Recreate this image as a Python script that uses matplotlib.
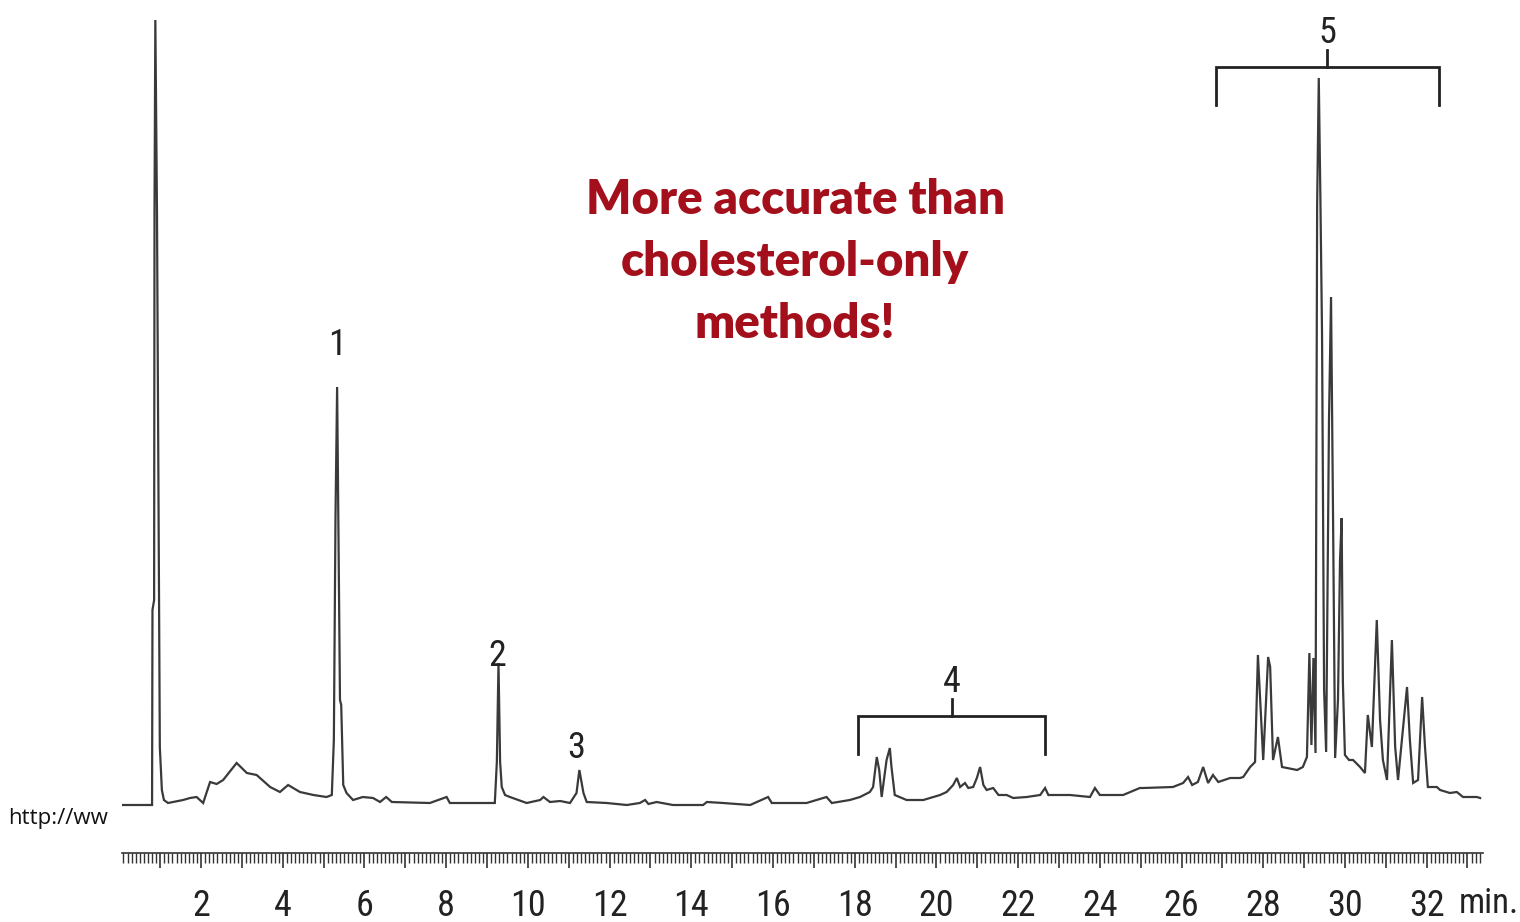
import matplotlib
matplotlib.use("Agg")
import matplotlib.pyplot as plt
from matplotlib import font_manager
from matplotlib.ticker import MultipleLocator, FuncFormatter

# ---- data ----
time_min = [0.06, 0.80, 0.81, 0.85, 0.86, 0.88, 0.92, 0.97, 0.99, 1.04, 1.09, 1.19, 1.31, 1.56, 1.73,
            1.89, 2.05, 2.22, 2.38, 2.54, 2.87, 3.12, 3.36, 3.69, 3.93, 4.13, 4.42, 4.75, 5.07, 5.20,
            5.25, 5.29, 5.33, 5.36, 5.40, 5.43, 5.48, 5.56, 5.72, 5.96, 6.21, 6.38, 6.53, 6.67, 7.60,
            8.01, 8.09, 8.58, 9.19, 9.24, 9.28, 9.32, 9.36, 9.44, 9.56, 9.97, 10.30, 10.38, 10.54, 10.79,
            11.03, 11.19, 11.26, 11.36, 11.44, 11.93, 12.42, 12.74, 12.87, 12.95, 13.15, 13.55, 14.29, 14.38, 14.78,
            15.44, 15.88, 15.97, 16.82, 17.31, 17.44, 17.88, 18.13, 18.37, 18.45, 18.54, 18.60, 18.66, 18.78, 18.86,
            18.90, 18.98, 19.27, 19.68, 20.09, 20.25, 20.41, 20.50, 20.58, 20.70, 20.78, 20.90, 20.99, 21.07, 21.15,
            21.23, 21.39, 21.52, 21.72, 21.88, 22.21, 22.54, 22.66, 22.74, 23.27, 23.76, 23.88, 24.00, 24.57, 24.98,
            25.06, 25.79, 26.04, 26.16, 26.26, 26.40, 26.53, 26.65, 26.77, 26.90, 27.19, 27.43, 27.51, 27.68, 27.80,
            27.87, 28.00, 28.12, 28.17, 28.24, 28.36, 28.46, 28.58, 28.83, 28.97, 29.07, 29.13, 29.18, 29.23, 29.28,
            29.32, 29.36, 29.40, 29.44, 29.49, 29.54, 29.61, 29.66, 29.71, 29.76, 29.83, 29.88, 29.92, 29.95, 30.00,
            30.10, 30.20, 30.37, 30.49, 30.56, 30.66, 30.78, 30.86, 30.93, 31.03, 31.15, 31.23, 31.30, 31.52, 31.59,
            31.67, 31.79, 31.89, 31.96, 32.03, 32.25, 32.33, 32.57, 32.74, 32.89, 33.23, 33.31]
response = [-5, -5, 190, 200, 590, 780, 590, 200, 53, 10, 0, -3, -2, 0, 2,
            3, -3, 18, 16, 20, 37, 27, 25, 13, 8, 15, 8, 5, 3, 5,
            60, 283, 413, 280, 100, 95, 15, 7, 0, 3, 2, -2, 3, -2, -3,
            3, -3, -3, -3, 38, 137, 38, 13, 5, 3, -3, 0, 3, -2, -1,
            -3, 7, 30, 7, -2, -3, -5, -3, 0, -4, -2, -5, -5, -2, -3,
            -5, 3, -3, -3, 3, -3, 0, 3, 8, 13, 43, 30, 3, 40, 52,
            33, 5, 0, 0, 5, 8, 15, 22, 13, 17, 12, 13, 22, 33, 15,
            10, 12, 5, 5, 2, 3, 5, 12, 5, 5, 3, 12, 5, 5, 12,
            12, 13, 17, 23, 15, 18, 33, 17, 25, 18, 22, 22, 23, 33, 38,
            145, 40, 143, 133, 40, 63, 33, 32, 30, 33, 43, 147, 55, 142, 47,
            595, 722, 600, 465, 110, 48, 380, 503, 280, 42, 100, 240, 282, 118, 45,
            40, 40, 33, 27, 85, 53, 180, 80, 40, 20, 160, 53, 20, 113, 60,
            17, 20, 103, 53, 13, 13, 10, 7, 8, 3, 3, 2]

peak_labels = ["1", "2", "3"]
peak_label_time = [5.33, 9.24, 11.18]
peak_label_level = [455, 144, 52]

group_labels = ["4", "5"]
group_start = [18.08, 26.84]
group_end = [22.66, 32.30]
group_level = [84, 733]
group_drop = [38, 38]

tick_labels = [str(v) for v in range(2, 33, 2)]
note_text = "More accurate than\ncholesterol-only\nmethods!"

# ---- fonts ----
available = {f.name for f in font_manager.fontManager.ttflist}
narrow = next((n for n in ["Liberation Sans Narrow", "DejaVu Sans Condensed", "Roboto Condensed",
                           "Liberation Sans"] if n in available), "DejaVu Sans")
bold_font = next((n for n in ["Lato", "Open Sans", "Roboto"] if n in available), "DejaVu Sans")

fig = plt.figure(figsize=(15.2, 9.22), dpi=100)
ax = fig.add_axes([122 / 1520, 69 / 922, (1483 - 122) / 1520, 853 / 922])
ax.set_xlim(0.064, 33.38)
ax.set_ylim(-53, 800)

trace_color = "#3a3a3a"
ax.plot(time_min, response, color=trace_color, lw=1.6, solid_joinstyle="miter")

# peak labels
for lab, t, lv in zip(peak_labels, peak_label_time, peak_label_level):
    ax.text(t, lv, lab, ha="center", va="center", fontsize=26, family=narrow, color="#222222")

# group brackets
for lab, t0, t1, lv, dr in zip(group_labels, group_start, group_end, group_level, group_drop):
    tm = (t0 + t1) / 2
    ax.plot([t0, t0, t1, t1], [lv - dr, lv, lv, lv - dr], color="#222222", lw=2.0, solid_joinstyle="miter")
    ax.plot([tm, tm], [lv, lv + 17], color="#222222", lw=2.0)
    ax.text(tm, lv + 34, lab, ha="center", va="center", fontsize=26, family=narrow, color="#222222")

# annotation
ax.text(16.54, 538, note_text, ha="center", va="center", multialignment="center",
        fontsize=34, fontweight="heavy", family=bold_font, color="#a30f1a", linespacing=1.5)

# axis styling
for s in ["left", "right", "top"]:
    ax.spines[s].set_visible(False)
ax.spines["bottom"].set_color("#333333")
ax.spines["bottom"].set_linewidth(1.2)
ax.set_yticks([])
ax.xaxis.set_major_locator(MultipleLocator(1))
ax.xaxis.set_minor_locator(MultipleLocator(0.1))
ax.xaxis.set_major_formatter(FuncFormatter(
    lambda v, p: tick_labels[int(round(v)) // 2 - 1] if (int(round(v)) % 2 == 0 and 2 <= round(v) <= 32) else ""))
ax.tick_params(axis="x", which="major", length=11, width=1.2, color="#333333", pad=14,
               labelsize=26, labelcolor="#222222")
ax.tick_params(axis="x", which="minor", length=7, width=1.0, color="#333333")
for lbl in ax.get_xticklabels():
    lbl.set_family(narrow)

ax.text(32.78, -113, "min.", ha="left", va="baseline", fontsize=25,
        family=narrow, color="#222222", clip_on=False)

fig.text(8 / 1520, 1 - 818 / 922, "http://ww", ha="left", va="center", fontsize=16,
         family="Open Sans" if "Open Sans" in available else "DejaVu Sans", color="#111111")

fig.savefig("out.png", dpi=100, facecolor="white")
